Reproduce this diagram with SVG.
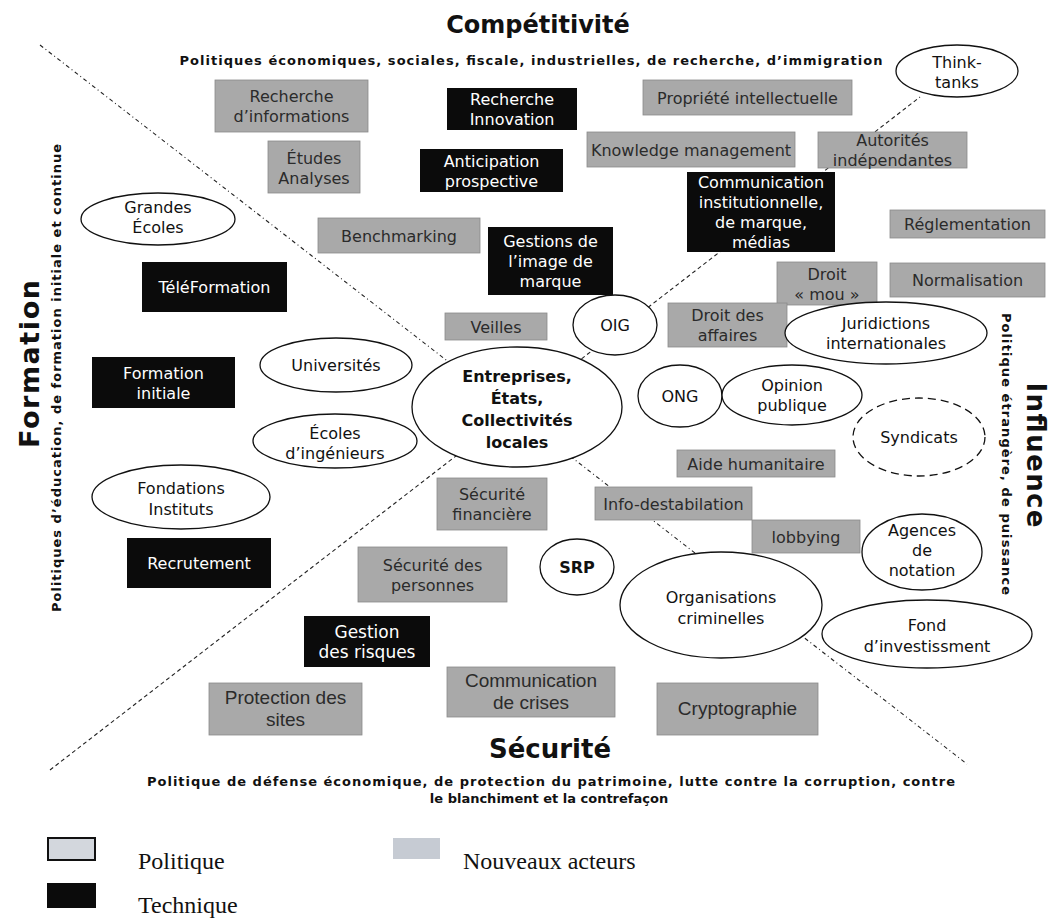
<svg xmlns="http://www.w3.org/2000/svg" width="1054" height="918" viewBox="0 0 1054 918">
<style>
.g rect{fill:#a9a9a9;stroke:#8a8a8a;stroke-width:0.8}
.g text{fill:#2b2b2b}
.b rect{fill:#0b0b0b}
.b text{fill:#ffffff}
.e ellipse{fill:#ffffff;stroke:#111;stroke-width:1.3}
.e text{fill:#111}
text{font-family:"DejaVu Sans",Verdana,sans-serif;font-size:16px;text-anchor:middle}
.n text{font-family:"Liberation Sans",Arial,sans-serif;font-size:19px}
.bold{font-weight:bold}
.title{font-family:"DejaVu Sans",Verdana,sans-serif;font-weight:bold;fill:#111;font-size:24px}
.sub{font-family:"DejaVu Sans",Verdana,sans-serif;font-weight:bold;font-size:13px;fill:#111}
.leg{font-family:"Liberation Serif","Times New Roman",serif;font-size:24px;text-anchor:start;fill:#111}
.dashA{fill:none;stroke:#222;stroke-width:1.1;stroke-dasharray:4 3 1 3}
.dashB{fill:none;stroke:#222;stroke-width:1.1;stroke-dasharray:4 3}
</style>

<g id="connectors">
<line class="dashA" x1="40" y1="45" x2="967" y2="764"/>
<line class="dashB" x1="50" y1="770" x2="920" y2="97"/>
</g>

<g id="titles">
<text class="title" x="538" y="33">Compétitivité</text>
<text class="sub" x="531" y="65" textLength="703">Politiques économiques, sociales, fiscale, industrielles, de recherche, d’immigration</text>
<text class="title" transform="translate(39,364) rotate(-90)" style="font-size:27px" textLength="168">Formation</text>
<text class="sub" transform="translate(61,378) rotate(-90)" textLength="468">Politiques d’éducation, de formation initiale et continue</text>
<text class="title" transform="translate(1027,455) rotate(90)" style="font-size:26px" textLength="145">Influence</text>
<text class="sub" transform="translate(1002,454) rotate(90)" textLength="282">Politique étrangère, de puissance</text>
<text class="title" x="550" y="758" style="font-size:26px">Sécurité</text>
<text class="sub" x="551" y="786" style="font-size:13px" textLength="808">Politique de défense économique, de protection du patrimoine, lutte contre la corruption, contre</text>
<text class="sub" x="549" y="803" style="font-size:13px">le blanchiment et la contrefaçon</text>
</g>

<g id="rech_info" class="g"><rect x="215" y="80" width="153" height="52"/><text x="291.5" y="102">Recherche</text><text x="291.5" y="122">d’informations</text></g>
<g id="etudes" class="g"><rect x="268" y="141" width="92" height="52"/><text x="314" y="164">Études</text><text x="314" y="184">Analyses</text></g>
<g id="propriete" class="g"><rect x="643" y="80" width="209" height="35"/><text x="747.5" y="103.5">Propriété intellectuelle</text></g>
<g id="knowledge" class="g"><rect x="587" y="132" width="208" height="35"/><text x="691" y="155.5">Knowledge management</text></g>
<g id="autorites" class="g"><rect x="818" y="132" width="149" height="36"/><text x="892.5" y="146">Autorités</text><text x="892.5" y="166">indépendantes</text></g>
<g id="benchmarking" class="g"><rect x="318" y="218" width="162" height="35"/><text x="399" y="241.5">Benchmarking</text></g>
<g id="reglementation" class="g"><rect x="890" y="210" width="155" height="28"/><text x="967.5" y="230">Réglementation</text></g>
<g id="normalisation" class="g"><rect x="890" y="263" width="155" height="34"/><text x="967.5" y="286">Normalisation</text></g>
<g id="droit_mou" class="g"><rect x="777" y="262" width="100" height="43"/><text x="827" y="279.5">Droit</text><text x="827" y="299.5">« mou »</text></g>
<g id="veilles" class="g"><rect x="445" y="313" width="102" height="27"/><text x="496" y="332.5">Veilles</text></g>
<g id="droit_affaires" class="g"><rect x="668" y="303" width="119" height="44"/><text x="727.5" y="321">Droit des</text><text x="727.5" y="341">affaires</text></g>
<g id="aide" class="g"><rect x="677" y="450" width="158" height="27"/><text x="756" y="469.5">Aide humanitaire</text></g>
<g id="info_destab" class="g"><rect x="595" y="487" width="157" height="33"/><text x="673.5" y="509.5">Info-destabilation</text></g>
<g id="lobbying" class="g"><rect x="752" y="520" width="108" height="33"/><text x="806" y="542.5">lobbying</text></g>
<g id="secu_fin" class="g"><rect x="437" y="478" width="110" height="52"/><text x="492" y="500">Sécurité</text><text x="492" y="520">financière</text></g>
<g id="secu_pers" class="g"><rect x="358" y="547" width="149" height="55"/><text x="432.5" y="570.5">Sécurité des</text><text x="432.5" y="590.5">personnes</text></g>
<g id="protection" class="g n"><rect x="209" y="683" width="153" height="52"/><text x="285.5" y="704">Protection des</text><text x="285.5" y="726">sites</text></g>
<g id="comm_crises" class="g n"><rect x="447" y="667" width="168" height="50"/><text x="531" y="687">Communication</text><text x="531" y="709">de crises</text></g>
<g id="crypto" class="g n"><rect x="657" y="683" width="161" height="52"/><text x="737.5" y="715">Cryptographie</text></g>

<g id="rech_innov" class="b"><rect x="447" y="88" width="130" height="42"/><text x="512" y="105">Recherche</text><text x="512" y="125">Innovation</text></g>
<g id="anticipation" class="b"><rect x="420" y="149" width="143" height="43"/><text x="491.5" y="166.5">Anticipation</text><text x="491.5" y="186.5">prospective</text></g>
<g id="comm_inst" class="b"><rect x="687" y="172" width="148" height="80"/><text x="761" y="188">Communication</text><text x="761" y="208">institutionnelle,</text><text x="761" y="228">de marque,</text><text x="761" y="248">médias</text></g>
<g id="gestions_image" class="b"><rect x="488" y="227" width="125" height="68"/><text x="550.5" y="247">Gestions de</text><text x="550.5" y="267">l’image de</text><text x="550.5" y="287">marque</text></g>
<g id="teleformation" class="b"><rect x="142" y="262" width="145" height="50"/><text x="214.5" y="293">TéléFormation</text></g>
<g id="formation_init" class="b"><rect x="92" y="357" width="143" height="51"/><text x="163.5" y="378.5">Formation</text><text x="163.5" y="398.5">initiale</text></g>
<g id="recrutement" class="b"><rect x="127" y="538" width="144" height="50"/><text x="199" y="569">Recrutement</text></g>
<g id="gestion_risques" class="b"><rect x="304" y="616" width="126" height="51"/><text x="367" y="637.5" style="font-size:17px">Gestion</text><text x="367" y="658" style="font-size:17px">des risques</text></g>

<g id="think_tanks" class="e"><ellipse cx="957" cy="71" rx="61" ry="26"/><text x="957" y="68">Think-</text><text x="957" y="88">tanks</text></g>
<g id="grandes_ecoles" class="e"><ellipse cx="158" cy="219" rx="77" ry="26"/><text x="158" y="213">Grandes</text><text x="158" y="233">Écoles</text></g>
<g id="universites" class="e"><ellipse cx="336" cy="365" rx="76" ry="27"/><text x="336" y="371">Universités</text></g>
<g id="ecoles_ing" class="e"><ellipse cx="335" cy="441" rx="82" ry="27"/><text x="335" y="439">Écoles</text><text x="335" y="459">d’ingénieurs</text></g>
<g id="fondations" class="e"><ellipse cx="181" cy="497" rx="89" ry="32"/><text x="181" y="494">Fondations</text><text x="181" y="515">Instituts</text></g>
<g id="entreprises" class="e"><ellipse cx="517" cy="407" rx="105" ry="60"/><text class="bold" x="517" y="382">Entreprises,</text><text class="bold" x="517" y="404">États,</text><text class="bold" x="517" y="426">Collectivités</text><text class="bold" x="517" y="448">locales</text></g>
<g id="oig" class="e"><ellipse cx="615" cy="325" rx="42" ry="30"/><text x="615" y="331">OIG</text></g>
<g id="ong" class="e"><ellipse cx="680" cy="396" rx="42" ry="31"/><text x="680" y="402">ONG</text></g>
<g id="opinion" class="e"><ellipse cx="792" cy="395" rx="70" ry="30"/><text x="792" y="391">Opinion</text><text x="792" y="411">publique</text></g>
<g id="juridictions" class="e"><ellipse cx="886" cy="333" rx="101" ry="31"/><text x="886" y="329">Juridictions</text><text x="886" y="349">internationales</text></g>
<g id="syndicats" class="e"><ellipse cx="919" cy="437" rx="66" ry="39" stroke-dasharray="8 5"/><text x="919" y="443">Syndicats</text></g>
<g id="srp" class="e"><ellipse cx="577" cy="567" rx="37" ry="28"/><text class="bold" x="577" y="573">SRP</text></g>
<g id="agences" class="e"><ellipse cx="922" cy="552" rx="60" ry="38"/><text x="922" y="536">Agences</text><text x="922" y="556">de</text><text x="922" y="576">notation</text></g>
<g id="org_crim" class="e"><ellipse cx="721" cy="605" rx="101" ry="53"/><text x="721" y="603">Organisations</text><text x="721" y="624">criminelles</text></g>
<g id="fond_invest" class="e"><ellipse cx="927" cy="634" rx="105" ry="34"/><text x="927" y="631">Fond</text><text x="927" y="652">d’investissment</text></g>

<g id="legend">
<rect x="48" y="838" width="47" height="22" fill="#d3d7dd" stroke="#111" stroke-width="2"/>
<text class="leg" x="138" y="869">Politique</text>
<rect x="393" y="838" width="47" height="21" fill="#c6cbd3"/>
<text class="leg" x="463" y="869">Nouveaux acteurs</text>
<rect x="47" y="883" width="49" height="25" fill="#0b0b0b"/>
<text class="leg" x="138" y="913">Technique</text>
</g>
</svg>
